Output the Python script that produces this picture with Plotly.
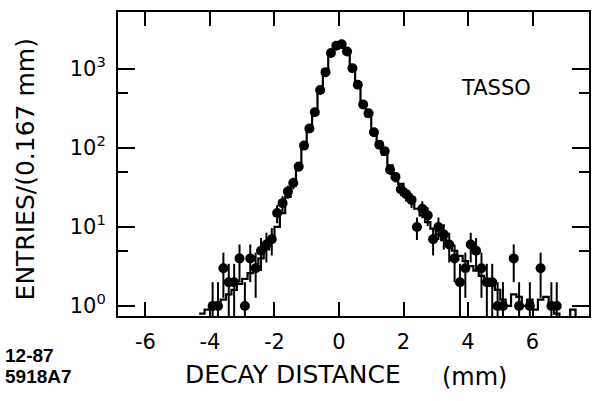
import numpy as np
import plotly.graph_objects as go

# ---- data ----
BIN_WIDTH = 1.0 / 6.0  # 0.167 mm bins
FIRST_BIN = -26        # bin index k -> centre (k + 0.5) * BIN_WIDTH
data_counts = [0, 0, 1, 1, 3, 2, 2, 4, 1, 4, 3, 5, 6, 7, 15, 20, 28, 36, 58, 107,
               176, 283, 540, 910, 1590, 1960, 2050, 1660, 1020, 630, 355, 275, 158, 110,
               91, 53, 43, 30, 26, 22, 10, 17, 14, 7, 10, 8, 6, 4, 2, 3, 6, 5, 3, 2, 2,
               1, 1, 0, 4, 1, 0, 1, 0, 3, 0, 1, 1, 0, 0, 0, 0, 0]
mc_counts = [0.8, 0.9, 1.0, 1.1, 1.2, 1.4, 1.6, 1.9, 2.2, 2.6, 3.2, 4.0, 5.2, 7.0, 10, 15,
             24, 36, 58, 100, 172, 290, 520, 920, 1560, 2000, 2000, 1640, 1050, 640, 380,
             250, 165, 112, 82, 60, 45, 35, 27, 21, 17, 14, 11.5, 9.5, 8, 6.8, 5.8, 5, 4.3,
             3.7, 3.2, 2.8, 2.4, 2.1, 1.8, 1.6, 1.2, 1.0, 1.4, 1.3, 1.0, 1.2, 0.9, 1.2, 1.3,
             1.0, 0.8, 0.7, 0.7, 0.9, 0.7, 0.6]
x_tick_vals = [-6, -4, -2, 0, 2, 4, 6]
x_tick_text = ["-6", "-4", "-2", "0", "2", "4", "6"]
y_tick_vals = [1, 10, 100, 1000]
y_tick_text = ["10<sup>0</sup>", "10<sup>1</sup>", "10<sup>2</sup>", "10<sup>3</sup>"]
y_minor_vals = [5, 50, 500]

n_bins = len(data_counts)
centres = (np.arange(n_bins) + FIRST_BIN + 0.5) * BIN_WIDTH
edges = (np.arange(n_bins + 1) + FIRST_BIN) * BIN_WIDTH

counts = np.array(data_counts, dtype=float)
mask = counts > 0
err_plus = np.sqrt(counts[mask])
err_minus = np.minimum(np.sqrt(counts[mask]), counts[mask] - 0.7)

fig = go.Figure()
# Monte-Carlo histogram (step line)
fig.add_trace(go.Scatter(
    x=edges, y=list(mc_counts) + [mc_counts[-1]],
    mode="lines", line=dict(shape="hv", color="black", width=2.2),
    hoverinfo="skip"))
# data points with error bars
fig.add_trace(go.Scatter(
    x=centres[mask], y=counts[mask], mode="markers",
    marker=dict(color="black", size=10),
    error_y=dict(type="data", symmetric=False, array=err_plus, arrayminus=err_minus,
                 color="black", thickness=2, width=0)))

axis_font = dict(family="DejaVu Sans", size=21, color="black")
fig.update_xaxes(range=[-6.85, 7.75], tickvals=x_tick_vals, ticktext=x_tick_text,
                 ticks="inside", ticklen=14, tickwidth=1.5, tickcolor="black",
                 showline=True, linewidth=2, linecolor="black", mirror="ticks",
                 showgrid=False, zeroline=False, tickfont=axis_font, ticklabelstandoff=6)
fig.update_yaxes(type="log", range=[-0.127, 3.72], tickvals=y_tick_vals, ticktext=y_tick_text,
                 ticks="inside", ticklen=17, tickwidth=1.5, tickcolor="black",
                 minor=dict(tickvals=y_minor_vals, ticks="inside", ticklen=10, tickwidth=1.5,
                            tickcolor="black", showgrid=False),
                 showline=True, linewidth=2, linecolor="black", mirror="ticks",
                 showgrid=False, zeroline=False, tickfont=axis_font, ticklabelstandoff=6)

L, R, T, B = 118, 1, 12, 85
W, H = 592, 401
pw, ph = W - L - R, H - T - B
def px(xp):
    return (xp - L) / pw
def py(yp):
    return (H - B - yp) / ph

ann = [
    dict(text="ENTRIES/(0.167 mm)", x=px(25), y=py(169), textangle=-90,
         font=dict(family="DejaVu Sans", size=25, color="black")),
    dict(text="DECAY DISTANCE", x=px(294), y=py(374),
         font=dict(family="DejaVu Sans", size=25, color="black")),
    dict(text="(mm)", x=px(476), y=py(377),
         font=dict(family="DejaVu Sans", size=24, color="black")),
    dict(text="<b>12-87</b>", x=px(3), y=py(355), xanchor="left",
         font=dict(family="Liberation Sans", size=19, color="black")),
    dict(text="<b>5918A7</b>", x=px(3), y=py(376), xanchor="left",
         font=dict(family="Liberation Sans", size=19, color="black")),
    dict(text="TASSO", x=px(498), y=py(88),
         font=dict(family="DejaVu Sans", size=21, color="black")),
]
for a in ann:
    a.setdefault("xanchor", "center")
    a.update(xref="paper", yref="paper", yanchor="middle", showarrow=False)

fig.update_layout(width=W, height=H, margin=dict(l=L, r=R, t=T, b=B),
                  paper_bgcolor="white", plot_bgcolor="white", showlegend=False,
                  annotations=ann)
fig.write_html("out.html")
